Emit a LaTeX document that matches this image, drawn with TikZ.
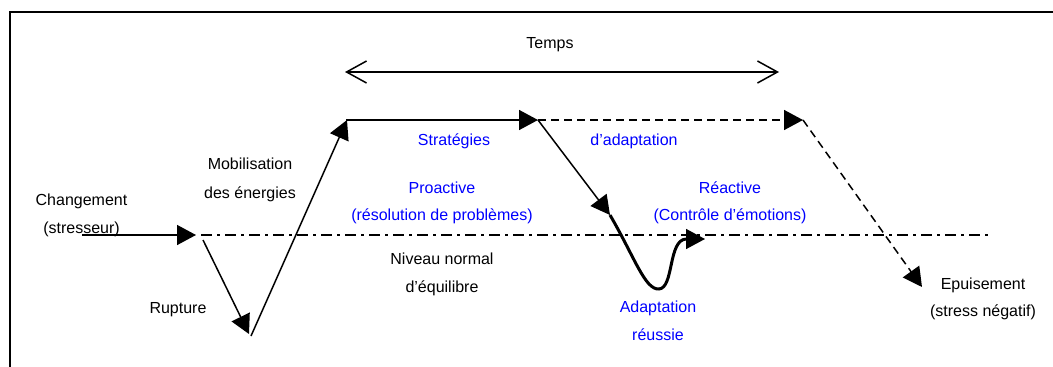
\documentclass[tikz,border=0pt]{standalone}
\usepackage{fontspec}
\setmainfont{Liberation Sans}
\usetikzlibrary{arrows.meta}
\begin{document}
\begin{tikzpicture}[x=1pt,y=-1pt,
  lbl/.style={anchor=base,inner sep=0pt,font=\fontsize{16}{19}\selectfont},
  blbl/.style={lbl,text=blue},
  conn/.style={line width=1.5pt,-{Triangle[length=19pt,width=20pt]}},
  dconn/.style={conn,dash pattern=on 8pt off 5pt},
  level/.style={line width=1.5pt,dash pattern=on 11pt off 5pt on 3pt off 5pt},
  frame/.style={line width=1.8pt}]
\useasboundingbox (0,0) rectangle (1053,367);
% frame
\coordinate (fb) at (10,367);
\coordinate (fc) at (10,12);
\coordinate (fr) at (1053,12);
\draw[frame] (fb) -- (fc) -- (fr);
% time
\coordinate (tl) at (345,72);
\coordinate (tr) at (779,72);
\draw[line width=1.5pt,{Straight Barb[length=20pt,width=22pt]}-{Straight Barb[length=20pt,width=22pt]}] (tl) -- (tr);
\node[lbl] (temps) at (550,48) {Temps};
% key points
\coordinate (c0) at (82,235);
\coordinate (c1) at (196,235);
\coordinate (n0) at (201,235);
\coordinate (n1) at (992,235);
\coordinate (r0) at (203,240);
\coordinate (r1) at (249,334);
\coordinate (v0) at (251,336);
\coordinate (v1) at (347,120);
\coordinate (t0) at (346,120);
\coordinate (t1) at (538,120);
\coordinate (d1) at (803,120);
\coordinate (e1) at (922,287);
\coordinate (s1) at (610,215);
\coordinate (a0) at (686,239);
\coordinate (a1) at (705,239);
% level
\draw[level] (n0) -- (n1);
% connectors
\draw[conn] (c0) -- (c1);
\draw[conn] (r0) -- (r1);
\draw[conn] (v0) -- (v1);
\draw[conn] (t0) -- (t1);
\draw[dconn] (t1) -- (d1);
\draw[dconn] (d1) -- (e1);
\draw[conn] (t1) -- (s1);
\draw[line width=3pt] (s1) .. controls (635,258) and (645,290) .. (659,289) .. controls (674,288) and (668,240) .. (a0);
\draw[conn] (a0) -- (a1);
% labels
\node[lbl] (chg1) at (81.5,205) {Changement};
\node[lbl] (chg2) at (81.5,233) {(stresseur)};
\node[lbl] (mob1) at (250,169) {Mobilisation};
\node[lbl] (mob2) at (250,198) {des énergies};
\node[lbl] (rup) at (178,313) {Rupture};
\node[blbl] (str1) at (454,145) {Stratégies};
\node[blbl] (str2) at (634,145) {d’adaptation};
\node[blbl] (pro1) at (442,193) {Proactive};
\node[blbl] (pro2) at (442,220) {(résolution de problèmes)};
\node[blbl] (rea1) at (730,193) {Réactive};
\node[blbl] (rea2) at (730,220) {(Contrôle d’émotions)};
\node[lbl] (niv1) at (442,264) {Niveau normal};
\node[lbl] (niv2) at (442,292) {d’équilibre};
\node[blbl] (ada1) at (658,312) {Adaptation};
\node[blbl] (ada2) at (658,340) {réussie};
\node[lbl] (epu1) at (983,289) {Epuisement};
\node[lbl] (epu2) at (983,316) {(stress négatif)};
\end{tikzpicture}
\end{document}
